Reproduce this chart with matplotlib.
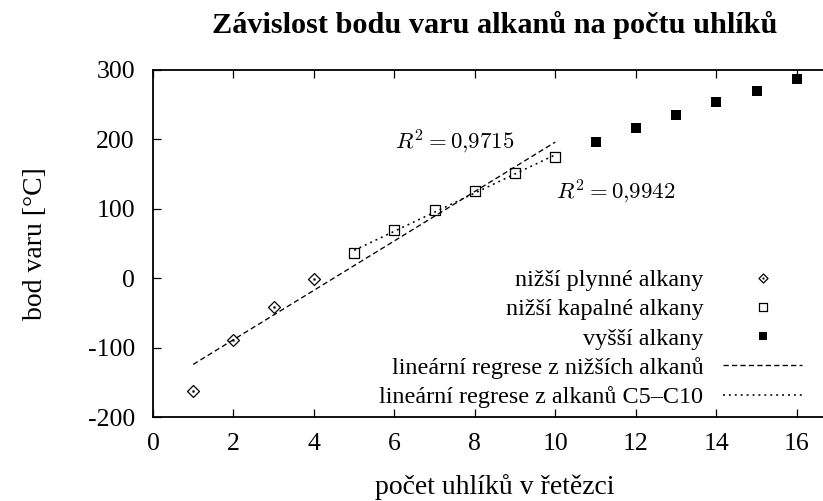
import numpy as np
import matplotlib
matplotlib.use("Agg")
import matplotlib.pyplot as plt
from matplotlib.path import Path

# boiling points of n-alkanes [°C]
carbons_gas = [1, 2, 3, 4]
boiling_gas = [-162, -89, -42, -1]
carbons_liquid = [5, 6, 7, 8, 9, 10]
boiling_liquid = [36, 69, 98, 126, 151, 174]
carbons_higher = [11, 12, 13, 14, 15, 16]
boiling_higher = [196, 216, 235, 254, 270, 287]

x_ticks = [0, 2, 4, 6, 8, 10, 12, 14, 16]
y_ticks = [-200, -100, 0, 100, 200, 300]
y_tick_labels = ["-200", "-100", "0", "100", "200", "300"]

r2_lower = "0{,}9715"
r2_c5_c10 = "0{,}9942"

plt.rcParams["font.family"] = ["Liberation Serif", "DejaVu Serif"]
plt.rcParams["mathtext.fontset"] = "cm"
plt.rcParams["axes.unicode_minus"] = False


def dotted_marker(outline):
    # open marker with a small dot in the middle (gnuplot style)
    d = 0.09
    verts = list(outline) + [outline[0], (-d, -d), (d, -d), (d, d), (-d, d), (-d, -d)]
    codes = ([Path.MOVETO] + [Path.LINETO] * (len(outline) - 1) + [Path.CLOSEPOLY]
             + [Path.MOVETO, Path.LINETO, Path.LINETO, Path.LINETO, Path.CLOSEPOLY])
    return Path(verts, codes)


diamond_dot = dotted_marker([(0, 1), (1, 0), (0, -1), (-1, 0)])
square_dot = dotted_marker([(-1, -1), (1, -1), (1, 1), (-1, 1)])

fig = plt.figure(figsize=(8.23, 5.01), dpi=100)
ax = fig.add_axes([153 / 823, 1 - 417 / 501, 684 / 823, 347 / 501])

ax.plot(carbons_gas, boiling_gas, linestyle="none", marker=diamond_dot,
        markersize=8.6, markerfacecolor="none", markeredgecolor="black",
        markeredgewidth=0.9, label="nižší plynné alkany")
ax.plot(carbons_liquid, boiling_liquid, linestyle="none", marker=square_dot,
        markersize=6.5, markerfacecolor="none", markeredgecolor="black",
        markeredgewidth=0.9, label="nižší kapalné alkany")
ax.plot(carbons_higher, boiling_higher, linestyle="none", marker="s",
        markersize=6.6, color="black", markeredgewidth=0,
        label="vyšší alkany")

# linear regressions
x_low = np.array(carbons_gas + carbons_liquid)
y_low = np.array(boiling_gas + boiling_liquid)
k1, q1 = np.polyfit(x_low, y_low, 1)
xs1 = np.array([x_low.min(), x_low.max()])
ax.plot(xs1, k1 * xs1 + q1, color="black", linewidth=0.95,
        dashes=(4.0, 2.4), label="lineární regrese z nižších alkanů")

x_mid = np.array(carbons_liquid)
y_mid = np.array(boiling_liquid)
k2, q2 = np.polyfit(x_mid, y_mid, 1)
xs2 = np.array([x_mid.min(), x_mid.max()])
ax.plot(xs2, k2 * xs2 + q2, color="black", linewidth=1.15,
        dashes=(1.2, 2.5), label="lineární regrese z alkanů C5–C10")

ax.text(7.5, 197, rf"$R^2 = {r2_lower}$", fontsize=16.5, ha="center", va="center")
ax.text(11.5, 124, rf"$R^2 = {r2_c5_c10}$", fontsize=16.5, ha="center", va="center")

ax.set_xlim(0, 17)
ax.set_ylim(-200, 300)
ax.set_xticks(x_ticks)
ax.set_xticklabels([str(t) for t in x_ticks])
ax.set_yticks(y_ticks)
ax.set_yticklabels(y_tick_labels)
ax.tick_params(direction="in", top=True, right=True, length=6, width=0.9,
               labelsize=18.5)
ax.tick_params(axis="x", pad=11.5)
ax.tick_params(axis="y", pad=13)
for sp in ax.spines.values():
    sp.set_linewidth(1.3)

ax.set_xlabel("počet uhlíků v řetězci", fontsize=20)
ax.xaxis.set_label_coords(0.5, -0.165)
ax.set_ylabel("bod varu [°C]", fontsize=20)
ax.yaxis.set_label_coords(-0.153, 0.5)

ax.set_title("Závislost bodu varu alkanů na počtu uhlíků",
             fontweight="bold", fontsize=21.8, y=1.108, pad=0)

leg = ax.legend(loc="lower right", bbox_to_anchor=(802 / 823, 1 - 408 / 501),
                bbox_transform=fig.transFigure, frameon=False, markerfirst=False,
                fontsize=17.4, handlelength=3.25, handletextpad=0.83,
                labelspacing=0.3, borderpad=0, borderaxespad=0, numpoints=1)
leg_sizes = [6.5, 5.8, 6.3, None, None]
for h, s in zip(leg.legend_handles, leg_sizes):
    if s is not None:
        h.set_markersize(s)

fig.savefig("out.png", dpi=100)
